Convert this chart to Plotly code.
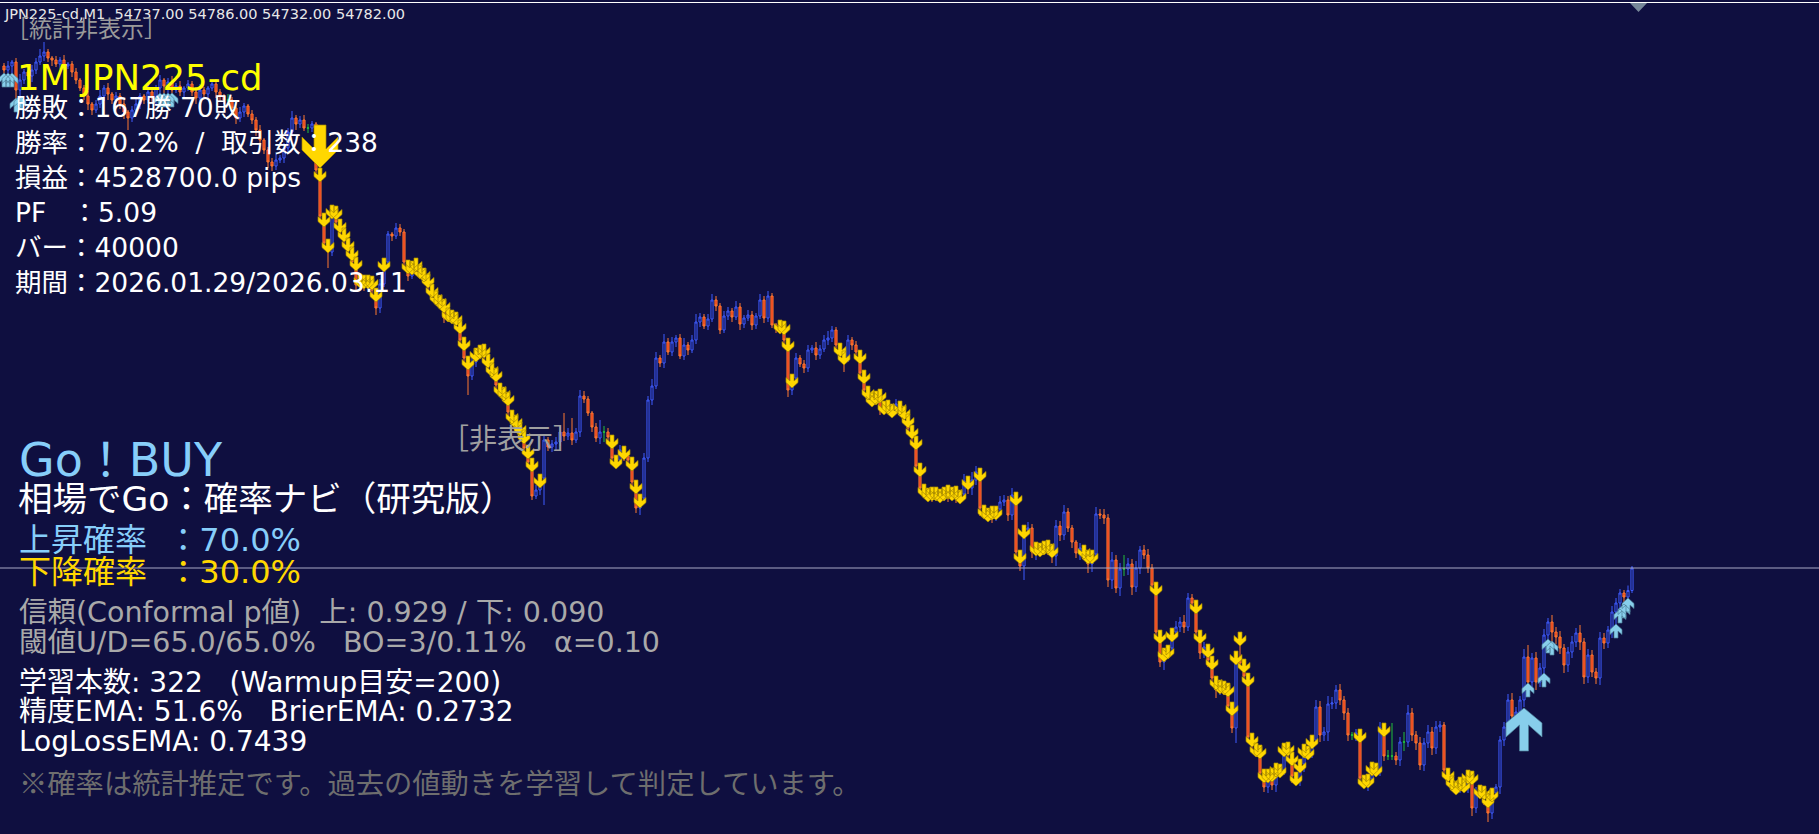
import plotly.graph_objects as go

# MT4-style chart window: JPN225-cd M1 with signal arrows and info labels
W, H = 1819, 834
BG = "#0f0f40"
BULL = "#3f5cff"
BEAR_LINE = "#ff7a30"
BEAR_FILL = "#e0321a"
DOJI = "#22c03a"
GOLD = "#ffd700"
SKY = "#87cefa"

SYMBOL = "JPN225-cd"
PERIOD = "M1"

first_open = 55786
closes = [
    55778, 55786, 55794, 55738, 55758, 55774, 55766, 55778, 55794, 55806,
    55814, 55802, 55798, 55790, 55798, 55786, 55790, 55774, 55758, 55742,
    55726, 55710, 55698, 55710, 55726, 55742, 55730, 55718, 55726, 55710,
    55694, 55682, 55698, 55710, 55726, 55718, 55734, 55722, 55742, 55758,
    55746, 55754, 55738, 55746, 55734, 55742, 55750, 55734, 55722, 55738,
    55730, 55742, 55750, 55734, 55726, 55718, 55718, 55702, 55682, 55694,
    55706, 55690, 55678, 55658, 55638, 55618, 55594, 55586, 55598, 55602,
    55622, 55654, 55682, 55670, 55678, 55662, 55662, 55670, 55578, 55486,
    55432, 55414, 55502, 55474, 55454, 55438, 55418, 55394, 55348, 55362,
    55346, 55358, 55338, 55302, 55350, 55394, 55450, 55446, 55462, 55454,
    55394, 55366, 55386, 55382, 55374, 55366, 55344, 55332, 55322, 55312,
    55282, 55292, 55286, 55274, 55238, 55202, 55166, 55194, 55214, 55222,
    55206, 55186, 55174, 55148, 55138, 55126, 55094, 55082, 55066, 55054,
    55022, 54994, 54926, 54938, 54962, 55038, 55024, 55030, 55034, 55054,
    55046, 55052, 55038, 55054, 55126, 55120, 55092, 55064, 55042, 55054,
    55054, 55044, 55002, 54998, 55018, 55006, 54998, 54954, 54902, 54922,
    55002, 55118, 55146, 55202, 55192, 55234, 55214, 55234, 55242, 55206,
    55228, 55218, 55238, 55274, 55284, 55266, 55280, 55318, 55306, 55258,
    55286, 55296, 55284, 55304, 55270, 55282, 55288, 55268, 55286, 55318,
    55282, 55326, 55268, 55262, 55270, 55238, 55138, 55162, 55202, 55190,
    55182, 55218, 55222, 55208, 55220, 55238, 55242, 55258, 55228, 55208,
    55202, 55238, 55228, 55214, 55172, 55138, 55128, 55122, 55130, 55098,
    55110, 55106, 55098, 55110, 55098, 55086, 55062, 55042, 54986, 54942,
    54934, 54938, 54930, 54936, 54928, 54938, 54932, 54940, 54926, 54930,
    54956, 54942, 54958, 54974, 54902, 54894, 54898, 54890, 54900, 54914,
    54918, 54888, 54928, 54814, 54786, 54858, 54862, 54814, 54828, 54822,
    54830, 54826, 54806, 54866, 54848, 54894, 54862, 54834, 54812, 54822,
    54814, 54790, 54810, 54890, 54888, 54882, 54758, 54798, 54742, 54780,
    54780, 54790, 54744, 54782, 54818, 54808, 54782, 54748, 54654, 54594,
    54614, 54622, 54654, 54664, 54674, 54664, 54722, 54712, 54654, 54612,
    54624, 54598, 54562, 54538, 54550, 54542, 54506, 54462, 54604, 54592,
    54566, 54444, 54428, 54422, 54372, 54344, 54370, 54348, 54384, 54378,
    54424, 54408, 54366, 54358, 54390, 54418, 54414, 54438, 54504, 54448,
    54454, 54510, 54512, 54538, 54518, 54492, 54448, 54448, 54452, 54362,
    54358, 54360, 54386, 54378, 54462, 54406, 54406, 54406, 54398, 54434,
    54434, 54492, 54448, 54432, 54388, 54432, 54454, 54422, 54464, 54468,
    54378, 54358, 54350, 54346, 54354, 54344, 54370, 54302, 54334, 54340,
    54322, 54292, 54332, 54344, 54438, 54464, 54518, 54486, 54494, 54518,
    54604, 54554, 54602, 54554, 54582, 54648, 54674, 54654, 54644, 54622,
    54588, 54614, 54634, 54652, 54634, 54564, 54608, 54574, 54562, 54642,
    54632, 54658, 54694, 54712, 54732, 54724, 54737, 54782,
]

# wick lengths above / below the body, in price points
hi_wick = [
    6, 10, 4, 8, 12, 6, 4, 10, 8, 14, 20, 6, 4, 8, 6, 10, 4, 6, 8, 4,
    6, 10, 4, 8, 12, 6, 10, 4, 8, 6, 12, 4, 8, 10, 6, 4, 14, 8, 6, 10,
    4, 8, 12, 6, 10, 4, 8, 6, 10, 12, 6, 4, 8, 10, 6, 4, 12, 6, 8, 10,
    6, 4, 8, 6, 10, 4, 6, 8, 12, 6, 10, 8, 14, 6, 8, 10, 8, 6, 4, 4,
    6, 8, 6, 4, 6, 8, 4, 6, 10, 8, 6, 10, 8, 4, 10, 8, 6, 4, 10, 8,
    6, 4, 10, 16, 6, 8, 4, 6, 4, 6, 8, 10, 6, 8, 4, 6, 4, 10, 8, 6,
    8, 4, 6, 8, 4, 6, 8, 4, 6, 8, 4, 6, 8, 10, 8, 12, 6, 8, 10, 12,
    38, 10, 30, 8, 12, 10, 6, 4, 8, 24, 12, 8, 4, 6, 10, 8, 4, 6, 4, 8,
    10, 8, 14, 12, 6, 16, 8, 10, 6, 8, 14, 6, 10, 16, 8, 6, 10, 12, 8, 6,
    10, 8, 6, 12, 8, 6, 10, 8, 6, 12, 8, 10, 6, 4, 8, 6, 4, 8, 10, 6,
    8, 10, 6, 12, 8, 10, 14, 8, 6, 4, 8, 10, 6, 8, 4, 6, 8, 4, 6, 10,
    6, 8, 4, 10, 6, 8, 4, 6, 4, 6, 8, 4, 6, 8, 4, 6, 10, 4, 6, 8,
    14, 10, 16, 12, 8, 6, 4, 8, 6, 12, 10, 8, 14, 6, 4, 10, 12, 8, 6, 4,
    6, 8, 4, 12, 10, 14, 8, 6, 4, 10, 6, 4, 8, 14, 10, 12, 8, 16, 10, 12,
    28, 12, 10, 14, 8, 10, 12, 8, 6, 4, 8, 6, 8, 12, 10, 14, 10, 8, 6, 4,
    10, 6, 8, 4, 8, 6, 10, 8, 12, 50, 8, 6, 8, 4, 6, 8, 10, 12, 8, 6,
    8, 10, 6, 8, 10, 12, 8, 10, 14, 12, 10, 16, 12, 10, 12, 8, 10, 6, 8, 8,
    6, 10, 8, 6, 12, 10, 12, 66, 8, 10, 20, 16, 10, 8, 12, 10, 14, 10, 12, 8,
    6, 4, 8, 6, 10, 6, 8, 6, 10, 8, 6, 8, 10, 6, 8, 10, 12, 14, 10, 8,
    16, 24, 10, 12, 10, 12, 8, 14, 10, 12, 8, 10, 12, 10, 16, 8, 12, 10, 8, 12,
    10, 8, 12, 10, 8, 6, 10, 4,
]
lo_wick = [
    34, 34, 42, 44, 40, 8, 6, 12, 8, 6, 10, 8, 12, 6, 10, 8, 6, 10, 8, 6,
    8, 12, 10, 6, 8, 10, 12, 8, 6, 10, 14, 24, 8, 6, 10, 8, 6, 10, 12, 38,
    42, 42, 34, 6, 8, 10, 6, 8, 12, 6, 10, 8, 6, 12, 10, 8, 6, 10, 12, 8,
    10, 6, 8, 12, 10, 8, 12, 10, 8, 6, 10, 8, 6, 12, 8, 6, 10, 8, 6, 8,
    10, 32, 8, 6, 10, 8, 6, 10, 12, 8, 10, 6, 12, 14, 10, 6, 8, 10, 6, 8,
    8, 10, 6, 8, 10, 6, 8, 10, 6, 8, 10, 6, 8, 10, 6, 12, 38, 8, 10, 6,
    8, 6, 10, 8, 6, 10, 8, 6, 10, 8, 12, 10, 8, 6, 10, 54, 8, 10, 12, 8,
    10, 8, 10, 6, 10, 8, 6, 10, 8, 12, 20, 8, 10, 6, 8, 10, 6, 12, 10, 14,
    12, 8, 10, 6, 8, 10, 6, 8, 10, 6, 8, 10, 6, 8, 10, 6, 8, 6, 10, 8,
    6, 8, 10, 6, 12, 8, 6, 10, 8, 6, 10, 8, 6, 10, 8, 12, 14, 10, 8, 6,
    10, 8, 6, 10, 8, 6, 10, 8, 6, 10, 28, 8, 10, 6, 8, 10, 6, 8, 12, 10,
    8, 10, 6, 8, 10, 12, 8, 10, 6, 8, 12, 10, 16, 14, 10, 12, 18, 10, 14, 12,
    10, 12, 14, 10, 16, 12, 10, 18, 14, 10, 8, 12, 10, 8, 10, 28, 10, 12, 16, 14,
    12, 18, 14, 20, 12, 10, 8, 12, 10, 14, 12, 18, 16, 10, 8, 12, 14, 18, 10, 16,
    14, 12, 16, 10, 12, 8, 10, 14, 12, 10, 16, 12, 10, 8, 10, 12, 8, 10, 14, 12,
    10, 14, 12, 16, 10, 14, 12, 10, 30, 8, 10, 12, 10, 14, 12, 10, 12, 10, 14, 12,
    10, 12, 14, 10, 12, 16, 10, 12, 10, 14, 12, 18, 10, 12, 10, 14, 12, 10, 12, 14,
    12, 22, 10, 14, 12, 10, 8, 8, 10, 12, 18, 10, 12, 14, 10, 12, 10, 14, 12, 10,
    14, 12, 10, 12, 14, 10, 12, 16, 10, 12, 14, 18, 12, 10, 14, 12, 10, 12, 14, 10,
    14, 30, 12, 16, 10, 38, 36, 46, 14, 12, 16, 14, 12, 10, 16, 14, 12, 10, 12, 14,
    12, 10, 16, 52, 40, 42, 30, 5,
]

# bars carrying a sell (gold) / buy (sky blue) arrow
sell_bars = [
    79, 80, 81, 82, 83, 84, 85, 86, 87, 88, 89, 90, 91, 92, 93, 95,
    101, 102, 103, 104, 105, 106, 107, 108, 109, 110, 111, 112, 113, 114, 115, 116,
    118, 119, 120, 121, 122, 123, 124, 125, 126, 127, 128, 129, 130, 131, 132, 134,
    152, 153, 155, 157, 158, 159, 194, 195, 196, 197, 209, 210,
    214, 215, 216, 217, 218, 219, 220, 221, 222, 224, 225, 226, 227, 228, 229,
    230, 231, 232, 233, 234, 235, 236, 237, 238, 239, 241, 244, 245, 246, 247, 248,
    253, 254, 255, 258, 259, 260, 261, 262, 270, 271, 272,
    288, 289, 290, 291, 292, 298, 299, 301, 302, 303, 304, 305, 306, 307, 308, 309,
    310, 311, 312, 313, 314, 315, 316, 317, 318, 319, 320, 321, 322, 323, 324, 325,
    326, 327, 339, 340, 341, 342, 343, 345,
    361, 362, 363, 364, 365, 366, 367, 369, 370, 371, 372,
]
buy_bars = [0, 1, 2, 3, 4, 39, 40, 41, 42, 381, 385, 386, 387, 403, 404, 405, 406]
big_sell_bar = 79
big_buy_bar = 380

stats_lines = [
    "勝敗：167勝 70敗",
    "勝率：70.2%  /  取引数：238",
    "損益：4528700.0 pips",
    "PF   ：5.09",
    "バー：40000",
    "期間：2026.01.29/2026.03.11",
]
panel_title = "Go！BUY"
panel_sub = "相場でGo：確率ナビ（研究版）"
prob_up = 70.0
prob_dn = 30.0
info_gray = [
    "信頼(Conformal p値)  上: 0.929 / 下: 0.090",
    "閾値U/D=65.0/65.0%   BO=3/0.11%   α=0.10",
]
info_white = [
    "学習本数: 322   (Warmup目安=200)",
    "精度EMA: 51.6%   BrierEMA: 0.2732",
    "LogLossEMA: 0.7439",
]
note = "※確率は統計推定です。過去の値動きを学習して判定しています。"

# ─── derived OHLC ────────────────────────────────────────────────────────────
n = len(closes)
opens = [first_open] + closes[:-1]
highs = [max(o, c) + w for o, c, w in zip(opens, closes, hi_wick)]
lows = [min(o, c) - w for o, c, w in zip(opens, closes, lo_wick)]
idx = list(range(n))

# chart scale: 4 px per bar, 2 price points per px
PX_BAR = 4.0
PT_PX = 2.0
x_lo = -1.0
x_hi = x_lo + W / PX_BAR
y_top = closes[-1] + 568 * PT_PX
y_bot = y_top - H * PT_PX


def _mask(vals, keep):
    return [v if k else None for v, k in zip(vals, keep)]


is_doji = [o == c for o, c in zip(opens, closes)]
not_doji = [not d for d in is_doji]

fig = go.Figure()
fig.add_trace(go.Candlestick(
    x=idx, open=_mask(opens, not_doji), high=_mask(highs, not_doji),
    low=_mask(lows, not_doji), close=_mask(closes, not_doji),
    increasing=dict(line=dict(color=BULL, width=1), fillcolor=BG),
    decreasing=dict(line=dict(color=BEAR_LINE, width=1), fillcolor=BEAR_FILL),
    whiskerwidth=0, hoverinfo="skip", showlegend=False,
))
fig.add_trace(go.Candlestick(
    x=idx, open=_mask(opens, is_doji), high=_mask(highs, is_doji),
    low=_mask(lows, is_doji), close=_mask(closes, is_doji),
    increasing=dict(line=dict(color=DOJI, width=1), fillcolor=DOJI),
    decreasing=dict(line=dict(color=DOJI, width=1), fillcolor=DOJI),
    whiskerwidth=0, hoverinfo="skip", showlegend=False,
))

# arrow outlines in pixels (x right, y down from the anchor end)
SMALL = [(-2, 0), (2, 0), (2, 7), (6, 3.5), (6, 8.5), (0, 14),
         (-6, 8.5), (-6, 3.5), (-2, 7), (-2, 0)]
BIG_DN = [(-6, 0), (6, 0), (6, 24), (18, 12), (18, 25), (0, 43),
          (-18, 25), (-18, 12), (-6, 24), (-6, 0)]
BIG_UP = [(0, 0), (18, 15), (18, 29), (4.5, 17), (4.5, 43), (-4.5, 43),
          (-4.5, 17), (-18, 29), (-18, 15), (0, 0)]


def arrow_trace(bars, anchors, shape, y_of, fill, edge):
    xs, ys = [], []
    for b, a in zip(bars, anchors):
        for px, py in shape:
            xs.append(b + px / PX_BAR)
            ys.append(y_of(a, py))
        xs.append(None)
        ys.append(None)
    return go.Scatter(x=xs, y=ys, mode="lines", fill="toself", fillcolor=fill,
                      line=dict(color=edge, width=0.7), hoverinfo="skip",
                      showlegend=False)


fig.add_trace(arrow_trace(sell_bars, [highs[b] for b in sell_bars], SMALL,
                          lambda a, py: a - py * PT_PX, GOLD, "#a88a00"))
fig.add_trace(arrow_trace(buy_bars, [lows[b] for b in buy_bars], SMALL,
                          lambda a, py: a + py * PT_PX, "#87ceeb", "#4d7f99"))
fig.add_trace(arrow_trace([big_sell_bar], [highs[big_sell_bar]], BIG_DN,
                          lambda a, py: a + (43 - py) * PT_PX, GOLD, "#a88a00"))
fig.add_trace(arrow_trace([big_buy_bar], [lows[big_buy_bar]], BIG_UP,
                          lambda a, py: a - (1 + py) * PT_PX, "#87ceeb", "#4d7f99"))

# ─── labels ──────────────────────────────────────────────────────────────────
LATIN = "DejaVu Sans, Noto Sans CJK JP, sans-serif"
CJK = "Noto Sans CJK JP, sans-serif"
NB = "\u00a0"


def label(text, x_px, y_px, size, color, family=LATIN):
    fig.add_annotation(
        text=text.replace(" ", NB), x=x_px / W, y=1 - y_px / H,
        xref="paper", yref="paper", xanchor="left", yanchor="middle",
        showarrow=False, font=dict(size=size, color=color, family=family),
    )


header = f"{SYMBOL},{PERIOD}  {opens[-1]:.2f} {highs[-1]:.2f} {lows[-1]:.2f} {closes[-1]:.2f}"
label(header, 2, 14, 14.5, "#e8e8e8")
label("［統計非表示］", 4, 27, 23, "#9a9a9a", CJK)
label(f"1M {SYMBOL}", 15, 78, 35.5, "#ffff00")
for k, line in enumerate(stats_lines):
    label(line, 13, 108 + k * 34.8, 26.5, "#ffffff")
label("［非表示］", 439, 437, 28, "#a0a0a0", CJK)

label(panel_title, 17, 460, 46, SKY)
label(panel_sub, 16, 499, 34.5, "#ffffff")
label(f"上昇確率  ：{prob_up:.1f}%", 17, 540, 32, SKY)
label(f"下降確率  ：{prob_dn:.1f}%", 17, 572, 32, GOLD)
for k, line in enumerate(info_gray):
    label(line, 17, 612 + k * 30, 28.5, "#a9a9a9")
for k, line in enumerate(info_white):
    label(line, 17, 682 + k * 29.5, 28, "#ffffff")
label(note, 17, 781, 28.3, "#6e6e6e", CJK)

# bid line, top border and chart-shift marker
fig.add_shape(type="line", xref="paper", x0=0, x1=1, y0=closes[-1], y1=closes[-1],
              line=dict(color="#a9a9c4", width=1))
fig.add_shape(type="line", xref="paper", yref="paper", x0=0, x1=1,
              y0=1 - 2.5 / H, y1=1 - 2.5 / H, line=dict(color="#ffffff", width=1))
fig.add_shape(type="path", xref="paper", yref="paper",
              path=f"M {1630 / W} {1 - 3 / H} L {1647 / W} {1 - 3 / H} L {1638.5 / W} {1 - 12 / H} Z",
              fillcolor="#778899", line=dict(width=0))

fig.update_layout(
    width=W, height=H,
    margin=dict(l=0, r=0, t=0, b=0),
    paper_bgcolor=BG, plot_bgcolor=BG,
    boxgap=0.25,
    showlegend=False,
    xaxis=dict(range=[x_lo, x_hi], visible=False, rangeslider=dict(visible=False),
               fixedrange=True),
    yaxis=dict(range=[y_bot, y_top], visible=False, fixedrange=True),
)

fig.write_html(
    "out.html",
    config={"displayModeBar": False},
    post_script="document.body.style.margin='0';document.body.style.overflow='hidden';",
)
